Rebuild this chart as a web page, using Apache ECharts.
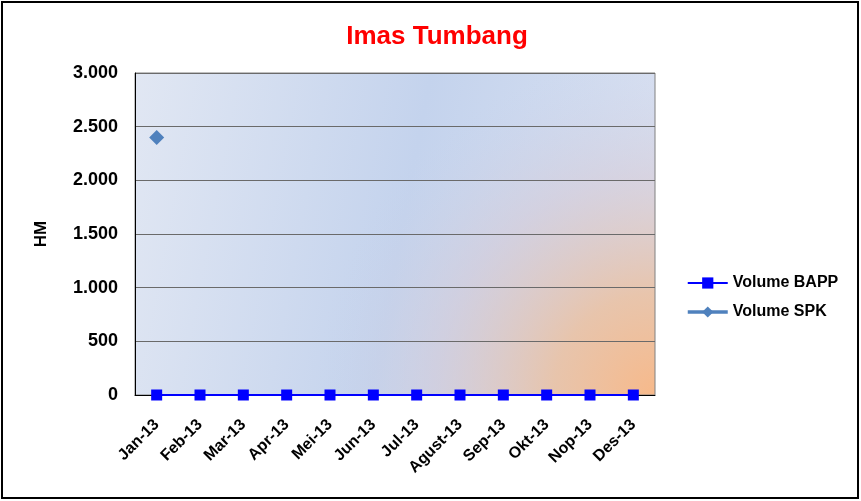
<!DOCTYPE html>
<html><head><meta charset="utf-8">
<script src="https://cdn.jsdelivr.net/npm/echarts@6/dist/echarts.min.js"></script>
<style>html,body{margin:0;padding:0;background:#fff}#c{width:861px;height:501px}</style>
</head><body><div id="c"></div>
<script>
const categories = ['Jan-13','Feb-13','Mar-13','Apr-13','Mei-13','Jun-13','Jul-13','Agust-13','Sep-13','Okt-13','Nop-13','Des-13'];
const volumeBAPP = [0,0,0,0,0,0,0,0,0,0,0,0];
const volumeSPK = [2400,null,null,null,null,null,null,null,null,null,null,null];
const seriesNames = ['Volume BAPP','Volume SPK'];

const chart = echarts.init(document.getElementById('c'), null, {renderer:'canvas'});
const G = {left:135, top:73, w:520, h:322};
const FF = 'Liberation Sans, Arial';
const fmt = v => String(v).replace(/\B(?=(\d{3})+(?!\d))/g, '.');
chart.setOption({
  animation:false,
  backgroundColor:'#fff',
  title:{text:'Imas Tumbang', left:432, top:19, textAlign:'center',
    textStyle:{color:'#ff0000', fontFamily:FF, fontWeight:'bold', fontSize:26}},
  graphic:[
    {type:'rect', shape:{x:2,y:2,width:856,height:496}, style:{fill:'none', stroke:'#000', lineWidth:2}, z:-10},
    {type:'rect', shape:{x:G.left,y:G.top,width:G.w,height:G.h}, silent:true, z:-5,
      style:{fill:{type:'linear',x:0,y:0,x2:1,y2:0.3,colorStops:[
        {offset:0,color:'#e1e7f3'},{offset:0.55,color:'#c4d3ed'},{offset:1,color:'#d8e0f1'}]}}},
    {type:'rect', shape:{x:G.left,y:G.top,width:G.w,height:G.h}, silent:true, z:-4,
      style:{fill:{type:'radial',x:1,y:1,r:1.05,colorStops:[
        {offset:0,color:'rgba(247,185,138,1)'},{offset:0.3,color:'rgba(235,192,160,0.85)'},{offset:0.65,color:'rgba(215,200,210,0.5)'},{offset:1,color:'rgba(200,210,235,0)'}]}}},
    {type:'rect', shape:{x:G.left,y:G.top,width:G.w,height:G.h}, silent:true, z:-3,
      style:{fill:'none', stroke:'#808080', lineWidth:1}}
  ],
  legend:{orient:'vertical', left:681, top:270, itemGap:13, itemWidth:40, itemHeight:14,
    textStyle:{fontFamily:FF, fontWeight:'bold', fontSize:16, color:'#000'},
    data:[{name:seriesNames[0], lineStyle:{width:2}}, {name:seriesNames[1], lineStyle:{width:3.5}}]},
  grid:{left:G.left, top:G.top, width:G.w, height:G.h, containLabel:false},
  xAxis:{type:'category', data:categories, boundaryGap:true,
    axisLine:{lineStyle:{color:'#000', width:1}}, axisTick:{show:false},
    axisLabel:{rotate:45, interval:0, margin:27, color:'#000', fontFamily:FF, fontWeight:'bold', fontSize:16}},
  yAxis:{type:'value', min:0, max:3000, interval:500, name:'HM', nameLocation:'middle', nameGap:85, nameRotate:90,
    nameTextStyle:{fontFamily:FF, fontWeight:'bold', fontSize:17, color:'#000'},
    axisLine:{show:true, lineStyle:{color:'#000'}}, axisTick:{show:false},
    axisLabel:{formatter:fmt, margin:17, color:'#000', fontFamily:FF, fontWeight:'bold', fontSize:18},
    splitLine:{lineStyle:{color:'#6a6a6a', width:1}}},
  series:[
    {name:seriesNames[0], type:'line', data:volumeBAPP, symbol:'rect', symbolSize:11,
      itemStyle:{color:'#0000ff'}, lineStyle:{color:'#0000ff', width:2}, z:5},
    {name:seriesNames[1], type:'line', data:volumeSPK, symbol:'diamond', symbolSize:15,
      itemStyle:{color:'#4f81bd'}, lineStyle:{color:'#4f81bd', width:3.5}, z:4}
  ]
});
</script></body></html>
